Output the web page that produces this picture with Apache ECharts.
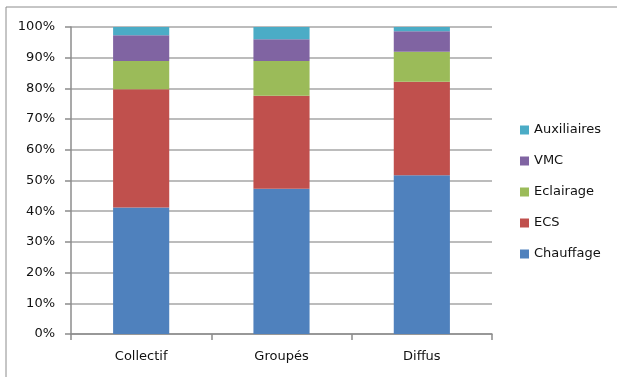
<!DOCTYPE html>
<html>
<head>
<meta charset="utf-8">
<script src="https://cdn.jsdelivr.net/npm/echarts@6/dist/echarts.min.js"></script>
<style>
  html, body { margin: 0; padding: 0; background: #ffffff; }
  #chart { width: 617px; height: 377px; }
</style>
</head>
<body>
<div id="chart"></div>
<script>
// Energy use share by building type (percent of total)
const categories = ['Collectif', 'Groupés', 'Diffus'];
const chauffage  = [41.2, 47.3, 51.7];
const ecs        = [38.5, 30.3, 30.5];
const eclairage  = [9.2, 11.3, 9.7];
const vmc        = [8.4, 7.1, 6.7];
const auxiliaires = [2.7, 4.0, 1.4];
const yTicks = [0, 10, 20, 30, 40, 50, 60, 70, 80, 90, 100];

const legendOrder = ['Auxiliaires', 'VMC', 'Eclairage', 'ECS', 'Chauffage'];
const FONT = '"DejaVu Sans", sans-serif';
const TEXT = '#111111';

const seriesDefs = [
  { name: 'Chauffage', data: chauffage, color: '#4F81BD' },
  { name: 'ECS', data: ecs, color: '#C0504D' },
  { name: 'Eclairage', data: eclairage, color: '#9BBB59' },
  { name: 'VMC', data: vmc, color: '#8064A2' },
  { name: 'Auxiliaires', data: auxiliaires, color: '#4BACC6' }
];

const chart = echarts.init(document.getElementById('chart'), null, { renderer: 'canvas' });

chart.setOption({
  animation: false,
  backgroundColor: '#ffffff',
  graphic: [{
    type: 'rect',
    shape: { x: 6, y: 7, width: 700, height: 500 },
    style: { fill: 'none', stroke: '#8c8c8c', lineWidth: 1 },
    silent: true,
    z: 0
  }],
  grid: { left: 71, right: 125, top: 27, bottom: 43, containLabel: false },
  legend: {
    orient: 'vertical',
    left: 520,
    top: 123,
    padding: 0,
    data: legendOrder,
    icon: 'rect',
    itemWidth: 9,
    itemHeight: 9,
    itemGap: 17,
    selectedMode: false,
    textStyle: { fontFamily: FONT, fontSize: 13, color: TEXT, lineHeight: 14 }
  },
  xAxis: {
    type: 'category',
    data: categories,
    axisLine: { show: true, lineStyle: { color: '#8c8c8c', width: 1.5 } },
    axisTick: { show: true, length: 6, alignWithLabel: false, lineStyle: { color: '#8c8c8c', width: 1.5 } },
    axisLabel: { fontFamily: FONT, fontSize: 13, color: TEXT, margin: 16 },
    splitLine: { show: false }
  },
  yAxis: {
    type: 'value',
    min: yTicks[0],
    max: yTicks[yTicks.length - 1],
    interval: yTicks[1] - yTicks[0],
    axisLine: { show: true, lineStyle: { color: '#8c8c8c', width: 1.5 } },
    axisTick: { show: true, length: 6, lineStyle: { color: '#8c8c8c', width: 1.5 } },
    axisLabel: { fontFamily: FONT, fontSize: 13, color: TEXT, margin: 16, formatter: v => v + '%' },
    splitLine: { show: true, lineStyle: { color: '#a6a6a6', width: 1.5 } }
  },
  series: seriesDefs.map(s => ({
    name: s.name,
    type: 'bar',
    stack: 'total',
    barWidth: '40%',
    data: s.data,
    itemStyle: { color: s.color },
    emphasis: { disabled: true }
  }))
});
</script>
</body>
</html>
